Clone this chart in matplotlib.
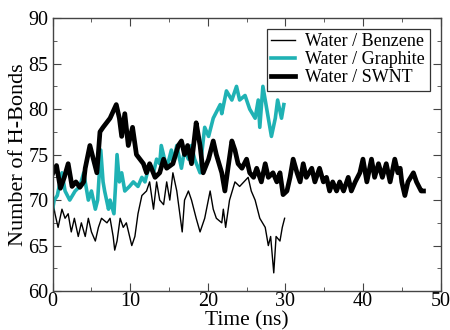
import matplotlib
matplotlib.use("Agg")
import matplotlib.pyplot as plt
from matplotlib.ticker import MultipleLocator

# Water / SWNT (thick black)
swnt_t = [0.0, 0.5, 1.0, 1.5, 2.0, 2.5, 3.0, 3.5, 4.0, 4.2, 4.8, 5.7, 6.1, 6.5, 7.4, 8.2, 8.6, 8.9,
          9.3, 9.75, 10.3, 10.8, 11.7, 12.1, 12.5, 13.2, 13.8, 14.3, 14.7, 15.5, 16.2, 16.6, 17.0,
          17.4, 17.9, 18.5, 18.8, 19.0, 19.4, 20.1, 20.7, 21.1, 21.8, 22.2, 22.6, 23.1, 23.5, 23.9,
          24.4, 25.0, 25.4, 25.9, 26.3, 26.9, 27.4, 27.8, 28.4, 28.9, 29.3, 29.7, 30.2, 30.6, 31.0,
          31.5, 31.9, 32.3, 32.7, 33.4, 33.8, 34.4, 34.9, 35.3, 35.7, 36.1, 36.6, 37.0, 37.5, 38.1,
          38.5, 39.0, 39.6, 40.0, 40.5, 41.1, 41.5, 42.0, 42.5, 43.0, 43.5, 44.1, 44.5, 44.8, 45.0,
          45.4, 45.8, 46.5, 46.9, 47.5, 47.8]
swnt_y = [72.9, 73.8, 71.3, 72.5, 74.0, 71.5, 72.0, 71.4, 72.0, 73.5, 76.0, 73.0, 77.5, 78.0,
          79.0, 80.5, 79.0, 77.0, 79.5, 76.0, 78.0, 75.0, 74.0, 73.0, 74.0, 72.5, 73.0, 74.5,
          73.5, 74.0, 76.0, 76.5, 75.0, 76.0, 74.0, 78.5, 77.0, 76.0, 73.0, 74.5, 76.5, 75.0,
          73.0, 71.0, 73.5, 76.5, 75.5, 74.0, 73.5, 74.5, 73.0, 72.5, 73.5, 72.0, 74.0, 72.5,
          73.0, 72.0, 73.0, 70.6, 71.0, 72.5, 74.5, 73.0, 72.0, 74.0, 72.5, 73.5, 72.0, 73.5,
          72.0, 72.5, 71.0, 72.0, 71.0, 72.0, 71.0, 72.5, 71.0, 72.0, 73.0, 74.5, 72.0, 74.5,
          72.5, 74.0, 72.5, 74.0, 72.0, 74.5, 73.0, 73.5, 72.0, 70.5, 72.0, 73.0, 72.0, 71.0, 71.0]

# Water / Benzene (thin black)
benz_t = [0.0, 0.3, 0.7, 1.2, 1.6, 2.0, 2.4, 2.8, 3.3, 3.7, 4.2, 4.6, 5.0, 5.5, 5.9, 6.3, 7.0,
          7.4, 7.8, 8.0, 8.3, 8.7, 9.1, 9.5, 10.2, 10.6, 11.0, 11.5, 12.1, 12.5, 13.0, 13.4, 13.8,
          14.3, 14.7, 15.1, 15.5, 16.0, 16.7, 17.0, 17.5, 17.9, 18.5, 19.0, 19.6, 20.3, 20.7, 21.1,
          21.8, 22.0, 22.3, 22.8, 23.5, 24.1, 25.2, 25.6, 26.1, 26.7, 27.4, 27.8, 28.1, 28.5, 28.8,
          29.3, 29.6, 29.9]
benz_y = [70.0, 68.5, 67.0, 69.0, 68.0, 68.5, 66.5, 68.0, 66.0, 67.5, 66.0, 68.0, 66.5, 65.5,
          67.0, 68.0, 67.5, 68.0, 66.0, 64.5, 65.5, 68.0, 67.0, 67.5, 65.0, 66.0, 68.5, 70.5,
          71.0, 72.0, 69.0, 72.0, 70.0, 69.5, 72.0, 70.0, 73.0, 71.0, 66.5, 70.0, 71.0, 70.0,
          68.0, 66.5, 68.0, 71.0, 69.0, 68.0, 67.5, 69.0, 67.0, 70.0, 72.0, 71.5, 72.5, 71.0,
          70.0, 68.0, 67.0, 65.0, 66.0, 62.0, 66.0, 65.5, 67.0, 68.0]

# Water / Graphite (cyan)
graph_t = [0.0, 0.2, 0.6, 1.2, 1.6, 2.2, 2.9, 3.5, 4.0, 4.6, 5.0, 5.5, 5.8, 6.2, 6.5, 6.7, 7.2,
           7.4, 7.9, 8.1, 8.3, 8.6, 8.9, 9.3, 9.9, 10.4, 11.0, 11.5, 11.9, 12.5, 13.0, 13.4, 13.8,
           14.0, 14.7, 15.3, 15.5, 16.0, 16.6, 17.0, 17.5, 17.9, 18.3, 19.0, 19.2, 19.6, 20.1,
           20.7, 21.6, 21.8, 22.4, 23.1, 23.7, 24.1, 24.8, 25.4, 26.1, 26.5, 26.7, 27.1, 27.6,
           28.2, 28.7, 29.0, 29.5, 29.8]
graph_y = [69.0, 70.0, 70.5, 73.0, 71.0, 70.0, 71.0, 71.5, 73.0, 70.0, 71.0, 69.0, 70.0, 75.5,
           72.0, 71.0, 69.0, 70.0, 68.5, 71.5, 75.0, 72.0, 73.0, 71.0, 71.5, 72.0, 71.5, 72.5,
           72.0, 74.0, 73.0, 74.5, 74.0, 76.0, 73.5, 75.5, 74.0, 76.0, 73.5, 75.5, 74.5, 76.0,
           74.5, 73.0, 75.0, 78.0, 77.0, 79.0, 80.5, 79.5, 82.0, 81.0, 82.5, 81.0, 81.5, 80.0,
           79.0, 81.0, 78.0, 82.5, 80.0, 77.0, 79.0, 81.0, 79.0, 80.5]

plt.rcParams['font.family'] = ['Liberation Serif', 'DejaVu Serif']

fig = plt.figure(figsize=(4.5, 3.3), dpi=100)
ax = fig.add_axes([0.117, 0.118, 0.862, 0.827])

ax.plot(benz_t, benz_y, color='black', lw=1.0, label='Water / Benzene')
ax.plot(graph_t, graph_y, color='#1fb2b4', lw=2.6, label='Water / Graphite')
ax.plot(swnt_t, swnt_y, color='black', lw=3.4, label='Water / SWNT')

ax.set_xlim(0, 50)
ax.set_ylim(60, 90)
ax.xaxis.set_major_locator(MultipleLocator(10))
ax.xaxis.set_minor_locator(MultipleLocator(5))
ax.yaxis.set_major_locator(MultipleLocator(5))
ax.yaxis.set_minor_locator(MultipleLocator(2.5))
ax.tick_params(which='both', direction='in', top=True, right=True, labelsize=14.5, color='#444444')
ax.tick_params(which='major', length=6)
ax.tick_params(axis='x', which='major', pad=1)
ax.tick_params(axis='y', which='major', pad=3)
ax.tick_params(which='minor', length=3)
for s in ax.spines.values():
    s.set_color('#444444')
    s.set_linewidth(1.0)

ax.set_xlabel('Time (ns)', fontsize=15.5, labelpad=0)
ax.set_ylabel('Number of H-Bonds', fontsize=16, labelpad=0)

leg = ax.legend(loc='upper right', fontsize=13, frameon=True, fancybox=False,
                edgecolor='#333333', framealpha=1, handlelength=1.3, handletextpad=0.6,
                borderpad=0.25, labelspacing=0.05, borderaxespad=0.6)
leg.get_frame().set_linewidth(0.9)

fig.savefig('out.png', dpi=100)
